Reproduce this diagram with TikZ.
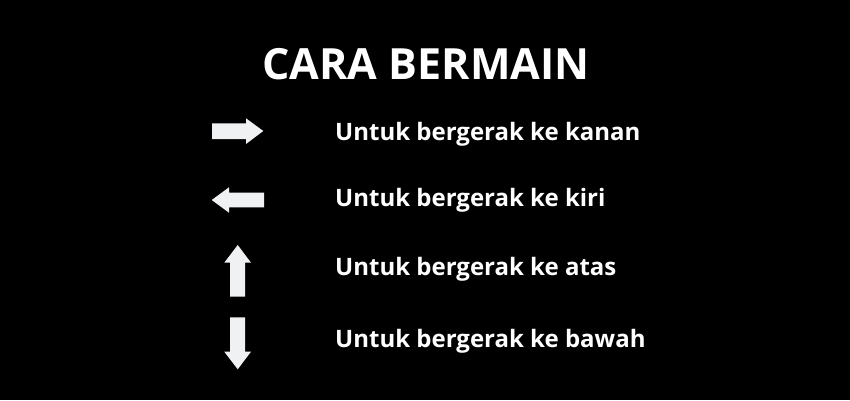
\documentclass[tikz,border=0pt]{standalone}
\usepackage{fontspec}
\setmainfont{Open Sans}
\definecolor{arrowgrey}{HTML}{F0F1F2}
\begin{document}
\begin{tikzpicture}[x=1pt,y=-1pt,
  bg/.style={fill=black},
  keyarrow/.style={fill=arrowgrey},
  title/.style={text=white,font=\bfseries\fontsize{43}{48}\selectfont,inner sep=0pt,anchor=base},
  label/.style={text=white,font=\bfseries\fontsize{24}{28}\selectfont,inner sep=0pt,anchor=base west}]
\fill[bg] (0,0) rectangle (850,400);
\useasboundingbox (0,0) rectangle (850,400);
\node[title] (title) at (426,79.5) {CARA BERMAIN};
% right arrow
\fill[keyarrow] (212,123.3) -- (246,123.3) -- (246,118.3) -- (263.3,131) -- (246,144) -- (246,139) -- (212,139) -- cycle;
% left arrow
\fill[keyarrow] (264,192.7) -- (229,192.7) -- (229,187.3) -- (211.7,200) -- (229,212.7) -- (229,207.3) -- (264,207.3) -- cycle;
% up arrow
\fill[keyarrow] (230,296.7) -- (230,262.7) -- (224.3,262.7) -- (237.7,245) -- (251,262.7) -- (245,262.7) -- (245,296.7) -- cycle;
% down arrow
\fill[keyarrow] (230,317.3) -- (230,351.7) -- (224.3,351.7) -- (237.7,369.3) -- (251,351.7) -- (245,351.7) -- (245,317.3) -- cycle;
\node[label] (kanan) at (335,140) {Untuk bergerak ke kanan};
\node[label] (kiri) at (335,206.5) {Untuk bergerak ke kiri};
\node[label] (atas) at (335,275.5) {Untuk bergerak ke atas};
\node[label] (bawah) at (335,347) {Untuk bergerak ke bawah};
\end{tikzpicture}
\end{document}
